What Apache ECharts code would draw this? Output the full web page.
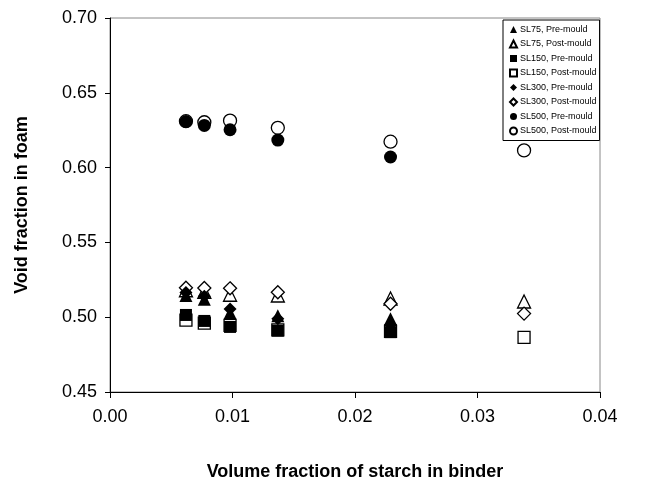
<!DOCTYPE html>
<html>
<head>
<meta charset="utf-8">
<script src="https://cdn.jsdelivr.net/npm/echarts@6/dist/echarts.min.js"></script>
<style>
  html, body { margin: 0; padding: 0; background: #fff; }
  #chart { width: 651px; height: 486px; }
</style>
</head>
<body>
<div id="chart"></div>
<script>
// starch volume fraction for each measured column
const xCols = [0.0062, 0.0077, 0.0098, 0.0137, 0.0229, 0.0338]

// void fraction, pre-mould has no value at the last column
const sl75Pre = [0.5145, 0.512, 0.503, 0.501, 0.499]
const sl75Post = [0.518, 0.517, 0.515, 0.5145, 0.5125, 0.5105]
const sl150Pre = [0.5015, 0.4975, 0.4935, 0.491, 0.490]
const sl150Post = [0.498, 0.496, 0.4945, 0.4915, 0.4905, 0.4865]
const sl300Pre = [0.5165, 0.514, 0.5055, 0.499, 0.495]
const sl300Post = [0.5197, 0.5195, 0.5193, 0.5167, 0.509, 0.5024]
const sl500Pre = [0.6308, 0.6282, 0.6253, 0.6184, 0.6071]
const sl500Post = [0.631, 0.6303, 0.6314, 0.6266, 0.6173, 0.6115]

const xTicks = [0.00, 0.01, 0.02, 0.03, 0.04]
const yTicks = [0.45, 0.50, 0.55, 0.60, 0.65, 0.70]

const seriesDefs = [
  { name: 'SL75, Pre-mould', symbol: 'triangle', values: sl75Pre, filled: true },
  { name: 'SL75, Post-mould', symbol: 'triangle', values: sl75Post, filled: false },
  { name: 'SL150, Pre-mould', symbol: 'rect', values: sl150Pre, filled: true },
  { name: 'SL150, Post-mould', symbol: 'rect', values: sl150Post, filled: false },
  { name: 'SL300, Pre-mould', symbol: 'diamond', values: sl300Pre, filled: true },
  { name: 'SL300, Post-mould', symbol: 'diamond', values: sl300Post, filled: false },
  { name: 'SL500, Pre-mould', symbol: 'circle', values: sl500Pre, filled: true },
  { name: 'SL500, Post-mould', symbol: 'circle', values: sl500Post, filled: false },
]

const sizeOf = { triangle: 13, rect: 12, diamond: 13, circle: 13 }

const series = seriesDefs.map(d => ({
  name: d.name,
  type: 'scatter',
  symbol: d.symbol,
  symbolSize: sizeOf[d.symbol],
  z: d.filled ? 3 : 2,
  data: d.values.map((v, i) => [xCols[i], v]),
  itemStyle: d.filled
    ? { color: '#000', borderColor: '#000', borderWidth: 0, opacity: 1 }
    : { color: '#fff', borderColor: '#000', borderWidth: 1.3, opacity: 1 },
}))

const chart = echarts.init(document.getElementById('chart'))
chart.setOption({
  animation: false,
  textStyle: { fontFamily: 'Liberation Sans, Arial, sans-serif' },
  grid: {
    left: 110, right: 51, top: 18, bottom: 84,
    show: true, borderColor: '#888', borderWidth: 1,
  },
  legend: {
    orient: 'vertical',
    left: 503, top: 20,
    padding: [5, 3, 5, 6],
    itemGap: 5.5,
    itemWidth: 7, itemHeight: 7,
    borderColor: '#000', borderWidth: 1,
    backgroundColor: '#fff',
    textStyle: { fontSize: 9, color: '#000', padding: [0, 0, 0, -2] },
    data: seriesDefs.map(d => d.name),
  },
  xAxis: {
    type: 'value',
    min: xTicks[0], max: xTicks[xTicks.length - 1], interval: 0.01,
    name: 'Volume fraction of starch in binder',
    nameLocation: 'middle', nameGap: 71,
    nameTextStyle: { fontSize: 18, fontWeight: 'bold', color: '#000' },
    axisLine: { show: true, lineStyle: { color: '#000', width: 1 } },
    axisTick: { show: true, length: 6, lineStyle: { color: '#000' } },
    axisLabel: { fontSize: 18, color: '#000', margin: 16, formatter: v => v.toFixed(2) },
    splitLine: { show: false },
  },
  yAxis: {
    type: 'value',
    min: yTicks[0], max: yTicks[yTicks.length - 1], interval: 0.05,
    name: 'Void fraction in foam',
    nameLocation: 'middle', nameGap: 79,
    nameTextStyle: { fontSize: 18, fontWeight: 'bold', color: '#000' },
    axisLine: { show: true, lineStyle: { color: '#000', width: 1 } },
    axisTick: { show: true, length: 5, lineStyle: { color: '#000' } },
    axisLabel: { fontSize: 18, color: '#000', margin: 13, formatter: v => v.toFixed(2) },
    splitLine: { show: false },
  },
  series,
})
</script>
</body>
</html>
